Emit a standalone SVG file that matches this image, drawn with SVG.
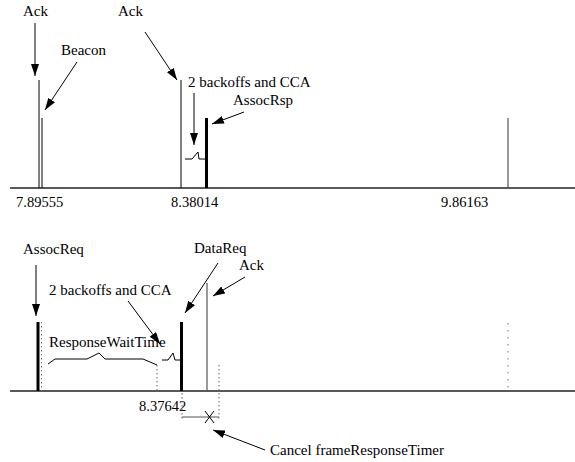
<svg xmlns="http://www.w3.org/2000/svg" width="575" height="462" viewBox="0 0 575 462">
<defs>
<marker id="ah" markerUnits="userSpaceOnUse" markerWidth="13" markerHeight="8" refX="12" refY="4" orient="auto">
<path d="M0,0 L12,4 L0,8 z" fill="#000"/>
</marker>
<style>
text{font-family:"Liberation Serif","Times New Roman",serif;font-size:15px;fill:#000}
.num{font-size:14.5px}
.thin{stroke:#000;stroke-width:1;fill:none}
.thick{stroke:#000;stroke-width:3;fill:none}
.gray{stroke:#555;stroke-width:1.2;fill:none}
.axis{stroke:#222;stroke-width:1.3;fill:none}
.dot{stroke:#666;stroke-width:1;fill:none;stroke-dasharray:1.5 2.5}
.dot2{stroke:#777;stroke-width:1;fill:none;stroke-dasharray:1.5 5.5}
.arr{stroke:#000;stroke-width:1;fill:none;marker-end:url(#ah)}
</style>
</defs>
<g id="top-axis"><line class="axis" x1="10" y1="188" x2="575" y2="188"/>
<text class="num" x="16" y="207">7.89555</text><text class="num" x="171" y="207">8.38014</text><text class="num" x="441" y="207">9.86163</text></g>
<g id="ack1"><line class="thin" x1="39" y1="80" x2="39" y2="188"/><text x="23" y="16">Ack</text></g>
<g id="beacon"><line class="thin" x1="42" y1="118" x2="42" y2="188"/><text x="61" y="55">Beacon</text></g>
<g id="ack2"><line class="thin" x1="181" y1="80" x2="181" y2="188"/><text x="118" y="16">Ack</text></g>
<g id="backoff1"><text x="188" y="87">2 backoffs and CCA</text><path class="thin" d="M185,159 L192,159 L198,152 L199,159 L205,159"/></g>
<g id="assocrsp"><line class="thick" x1="206.5" y1="118" x2="206.5" y2="188"/><text x="233" y="105">AssocRsp</text></g>
<g id="frame3"><line class="gray" x1="508" y1="118" x2="508" y2="188"/></g>

<g id="bottom-axis"><line class="axis" x1="10" y1="391" x2="575" y2="391"/><text class="num" x="139" y="411">8.37642</text></g>
<g id="assocreq"><line class="thick" x1="38" y1="322" x2="38" y2="391"/><line class="dot" x1="41.5" y1="322" x2="41.5" y2="391"/><text x="23" y="254">AssocReq</text></g>
<g id="responsewait"><text x="49" y="347">ResponseWaitTime</text>
<path class="thin" d="M48,364 L55,359 L87,359 L99,353 L105,359 L143,359 L157,365"/>
<line class="dot" x1="157" y1="365" x2="157" y2="391"/></g>
<g id="backoff2"><text x="49" y="295">2 backoffs and CCA</text><path class="thin" d="M162,360 L168,360 L173,353 L175,360 L181,360"/></g>
<g id="datareq"><line class="thick" x1="181.5" y1="322" x2="181.5" y2="391"/><line class="dot" x1="182" y1="393" x2="182" y2="421"/><text x="194" y="253">DataReq</text></g>
<g id="ack3"><line class="gray" x1="207" y1="283" x2="207" y2="391"/><text x="239" y="270">Ack</text></g>
<g id="timer"><line class="dot" x1="219" y1="365" x2="219" y2="421"/>
<line class="gray" x1="182" y1="417" x2="219" y2="417"/>
<path class="thin" d="M205,411 L214,423 M214,411 L205,423"/>
<text x="270" y="455">Cancel frameResponseTimer</text></g>
<g id="frame4"><line class="dot2" x1="508" y1="323" x2="508" y2="391"/></g>

<g id="connectors">
<line class="arr" x1="35" y1="23" x2="35" y2="76"/>
<line class="arr" x1="77" y1="62" x2="45" y2="110"/>
<line class="arr" x1="145" y1="32" x2="177" y2="80"/>
<line class="arr" x1="194" y1="93" x2="194" y2="145"/>
<line class="arr" x1="244" y1="112" x2="212" y2="124"/>
<line class="arr" x1="36" y1="265" x2="36" y2="316"/>
<line class="arr" x1="128" y1="301" x2="160" y2="344"/>
<line class="arr" x1="218" y1="263" x2="185" y2="313"/>
<line class="arr" x1="245" y1="277" x2="213" y2="296"/>
<line class="arr" x1="265" y1="450" x2="213" y2="430"/>
</g>
</svg>
